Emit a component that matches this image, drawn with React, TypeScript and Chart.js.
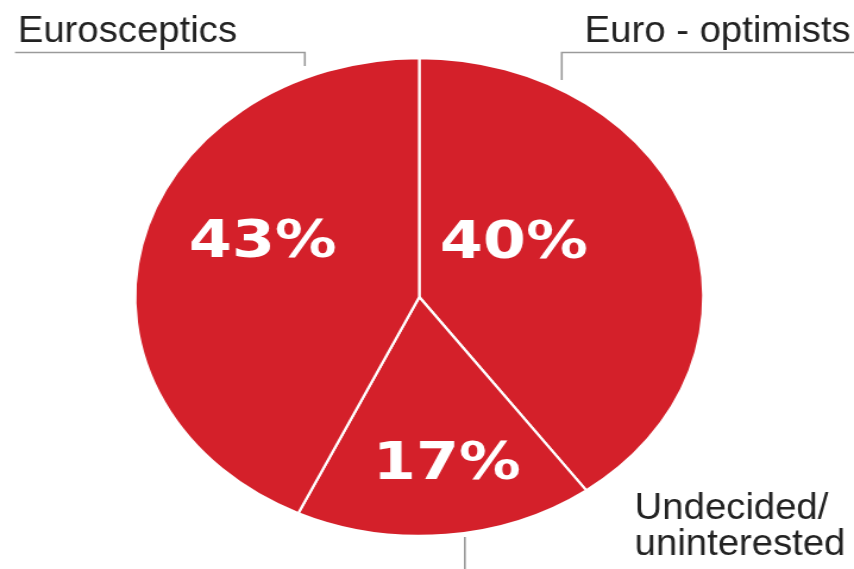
import React, { useEffect, useRef } from "react";
import { Chart, registerables } from "chart.js";

Chart.register(...registerables);

// Data (clockwise from 12 o'clock)
const categories = ["Euro-optimists", "Undecided/uninterested", "Eurosceptics"];
const shares = [40, 17, 43];
const valueLabels = ["40%", "17%", "43%"];

// Style
const STRETCH = 854 / 718; // the original graphic is stretched horizontally
const RED = "#d4202a";
const TEXT = "#222222";
const LINE = "#9a9a9a";
// offsets of the percentage labels from the slice's mid point
const LABEL_SHIFT: [number, number][] = [
  [-34, -16],
  [12, 50],
  [-15, -27],
];

const labelPlugin = {
  id: "pieLabels",
  afterDatasetsDraw(chart: any) {
    const ctx: CanvasRenderingContext2D = chart.ctx;
    const meta = chart.getDatasetMeta(0);
    ctx.save();
    // percentages inside the slices
    ctx.fillStyle = "#ffffff";
    ctx.font = 'bold 52px "DejaVu Sans"';
    ctx.textAlign = "center";
    ctx.textBaseline = "middle";
    meta.data.forEach((arc: any, i: number) => {
      const p = arc.tooltipPosition();
      const [dx, dy] = LABEL_SHIFT[i];
      ctx.fillText(valueLabels[i], p.x + dx, p.y + dy);
    });

    // leader lines and category names
    const arc0 = meta.data[0];
    const cy = arc0.y;
    const r = arc0.outerRadius;
    ctx.strokeStyle = LINE;
    ctx.lineWidth = 1.6;
    ctx.beginPath();
    // Eurosceptics
    ctx.moveTo(12.6, 52.5);
    ctx.lineTo(256.3, 52.5);
    ctx.lineTo(256.3, 66);
    // Euro-optimists
    ctx.moveTo(chart.width, 52.5);
    ctx.lineTo(472.3, 52.5);
    ctx.lineTo(472.3, 80);
    // Undecided
    ctx.moveTo(390.8, cy + r + 1);
    ctx.lineTo(390.8, chart.height);
    ctx.stroke();

    ctx.fillStyle = TEXT;
    ctx.font = '37px "Liberation Sans"';
    ctx.textAlign = "left";
    ctx.textBaseline = "alphabetic";
    const drawText = (t: string, x: number, y: number) => {
      ctx.save();
      ctx.translate(x, y);
      ctx.scale(0.87, 1);
      ctx.fillText(t, 0, 0);
      ctx.restore();
    };
    drawText(categories[2], 15, 41.5);
    drawText("Euro - optimists", 491.6, 42);
    drawText("Undecided/", 533.6, 519);
    drawText("uninterested", 533.6, 555);
    ctx.restore();
  },
};

export default function App() {
  const ref = useRef<HTMLCanvasElement | null>(null);
  useEffect(() => {
    if (!ref.current) return;
    const chart = new Chart(ref.current, {
      type: "pie",
      data: {
        labels: categories,
        datasets: [
          {
            data: shares,
            backgroundColor: RED,
            borderColor: "#ffffff",
            borderWidth: 2.2,
          },
        ],
      },
      options: {
        animation: false,
        responsive: true,
        maintainAspectRatio: false,
        layout: { padding: { top: 57, bottom: 32, left: 112.5, right: 125.5 } },
        plugins: {
          legend: { display: false },
          tooltip: { enabled: false },
        },
      },
      plugins: [labelPlugin],
    });
    return () => chart.destroy();
  }, []);

  return (
    <div
      style={{
        position: "fixed",
        left: 0,
        top: 0,
        width: 854,
        height: 569,
        overflow: "hidden",
        background: "#ffffff",
      }}
    >
      <div
        style={{
          width: 718,
          height: 569,
          transform: `scaleX(${STRETCH})`,
          transformOrigin: "0 0",
        }}
      >
        <canvas ref={ref} />
      </div>
    </div>
  );
}
